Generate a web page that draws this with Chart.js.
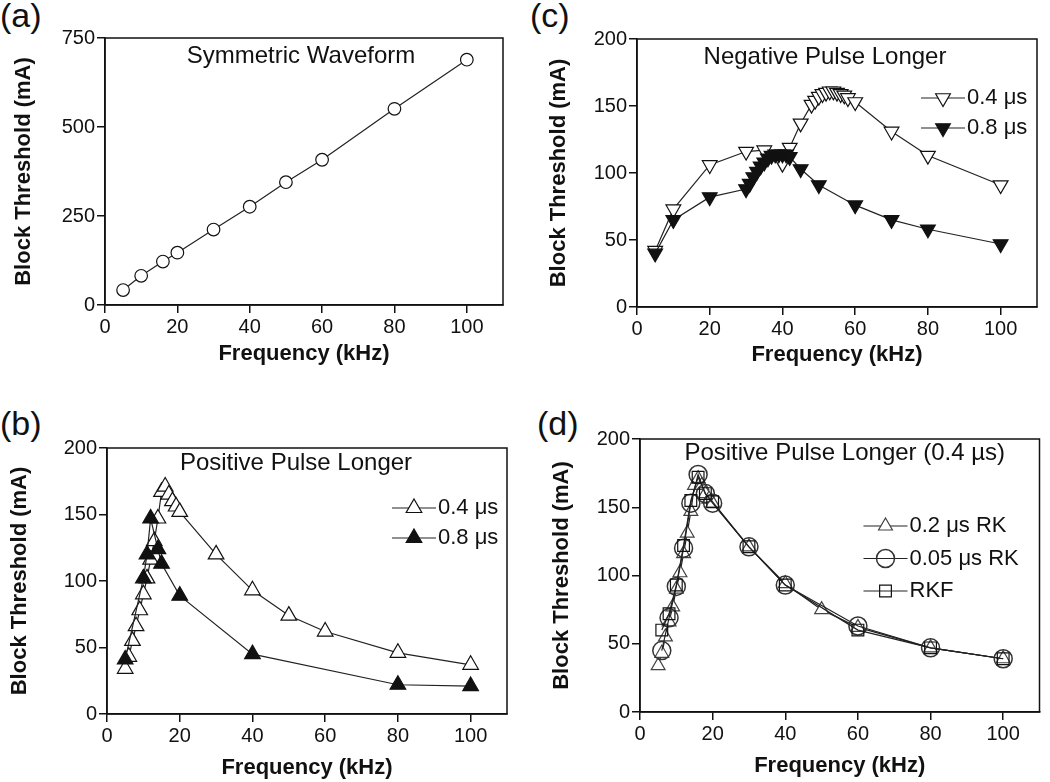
<!DOCTYPE html>
<html>
<head>
<meta charset="utf-8">
<script src="https://cdn.jsdelivr.net/npm/chart.js@4.4.1/dist/chart.umd.min.js"></script>
<style>
body{margin:0;background:#fff;width:1050px;height:782px;position:relative;overflow:hidden;font-family:"Liberation Sans",Arial,sans-serif}
canvas{position:absolute}
.lbl{position:absolute;font-size:34px;line-height:34px;color:#111}
</style>
</head>
<body>
<div class="lbl" style="left:0;top:-2px">(a)</div>
<div class="lbl" style="left:530px;top:-2px">(c)</div>
<div class="lbl" style="left:0;top:406px">(b)</div>
<div class="lbl" style="left:537px;top:406px">(d)</div>
<canvas id="chartA" width="525" height="391" style="left:0;top:0"></canvas>
<canvas id="chartC" width="525" height="391" style="left:525px;top:0"></canvas>
<canvas id="chartB" width="525" height="391" style="left:0;top:391px"></canvas>
<canvas id="chartD" width="525" height="391" style="left:525px;top:391px"></canvas>
<script>
// (a) symmetric waveform
const symFreq = [5, 10, 16, 20, 30, 40, 50, 60, 80, 100];
const symThr  = [42, 82, 122, 147, 212, 276, 345, 408, 551, 689];

// (c) negative pulse longer
const negFreq04 = [5, 10, 20, 30, 35, 40, 42, 45, 48, 49, 50, 51, 52, 53, 54, 55, 56, 57, 58, 60, 70, 80, 100];
const negThr04  = [42, 73, 106, 116, 117, 107, 119, 137, 151, 154, 157, 159, 160, 161, 161, 160, 159, 158, 156, 153, 131, 113, 91];
const negFreq08 = [5, 10, 20, 30, 31, 32, 33, 34, 35, 36, 37, 38, 39, 40, 41, 42, 45, 50, 60, 70, 80, 100];
const negThr08  = [40, 65, 82, 88, 92, 97, 101, 105, 108, 111, 113, 114, 114, 114, 114, 112, 103, 91, 76, 65, 58, 47];

// (b) positive pulse longer
const posFreq04 = [5, 6, 7, 8, 9, 10, 11, 12, 13, 14, 15, 16, 17, 18, 19, 20, 30, 40, 50, 60, 80, 100];
const posThr04  = [34, 43, 55, 66, 78, 90, 102, 116, 130, 147, 167, 171, 165, 160, 156, 152, 120, 93, 74, 62, 46, 37];
const posFreq08 = [5, 10, 11, 12, 14, 15, 20, 40, 80, 100];
const posThr08  = [41, 102, 120, 147, 124, 113, 89, 45, 22, 21];

// (d) solver comparison, positive pulse longer 0.4 us
const rk02Freq  = [5, 6, 7, 8, 9, 10, 11, 12, 13, 14, 15, 16, 17, 18, 19, 20, 30, 40, 50, 60, 80, 100];
const rk02Thr   = [34, 43, 55, 66, 77, 90, 102, 116, 131, 147, 166, 171, 166, 160, 156, 153, 121, 94, 75, 62, 47, 39];
const rk005Freq = [6, 8, 10, 12, 14, 16, 18, 20, 30, 40, 60, 80, 100];
const rk005Thr  = [45, 69, 92, 120, 153, 174, 160, 153, 121, 93, 63, 47, 39];
const rkfFreq   = [6, 8, 10, 12, 14, 16, 18, 20, 30, 40, 60, 80, 100];
const rkfThr    = [60, 72, 93, 122, 155, 172, 160, 154, 121, 93, 60, 47, 39];

const xTicks = [0, 20, 40, 60, 80, 100];
const FONT = '"Liberation Sans", Arial, sans-serif';

function pts(xs, ys){ return xs.map((x, i) => ({x, y: ys[i]})); }

// frame box, in-plot title and in-plot legend
const panelDecor = {
  id: 'panelDecor',
  afterDraw(chart, args, o){
    const {ctx, chartArea: a} = chart;
    ctx.save();
    ctx.strokeStyle = '#111';
    ctx.lineWidth = 1.5;
    ctx.strokeRect(a.left, a.top, a.right - a.left, a.bottom - a.top);
    ctx.fillStyle = '#111';
    ctx.textBaseline = 'middle';
    if(o.title){
      ctx.font = '24px ' + FONT;
      ctx.textAlign = 'center';
      ctx.fillText(o.title, (a.left + a.right) / 2 + o.titleDx, a.top + o.titleDy);
    }
    if(o.legend){
      chart.data.datasets.forEach((ds, i) => {
        const y = a.top + o.legendY + i * o.legendGap;
        const x0 = a.right + o.legendX, x1 = x0 + 44;
        ctx.strokeStyle = ds.borderColor;
        ctx.lineWidth = 1.2;
        ctx.beginPath(); ctx.moveTo(x0, y); ctx.lineTo(x1, y); ctx.stroke();
        ctx.fillStyle = ds.pointBackgroundColor;
        ctx.strokeStyle = ds.pointBorderColor;
        ctx.lineWidth = ds.pointBorderWidth;
        Chart.helpers.drawPoint(ctx, {pointStyle: ds.pointStyle, rotation: ds.pointRotation || 0,
          radius: ds.pointRadius, borderWidth: ds.pointBorderWidth}, (x0 + x1) / 2, y);
        ctx.fillStyle = '#111';
        ctx.font = '22px ' + FONT;
        ctx.textAlign = 'left';
        ctx.fillText(ds.label, x1 + 2, y);
      });
    }
    ctx.restore();
  }
};

function series(label, xs, ys, style, fill, r, extra){
  return Object.assign({
    label, data: pts(xs, ys), showLine: true,
    borderColor: '#222', borderWidth: 1.2,
    pointStyle: style, pointRadius: r, pointBackgroundColor: fill,
    pointBorderColor: '#111', pointBorderWidth: 1.2
  }, extra || {});
}

function makeChart(id, datasets, cfg){
  return new Chart(document.getElementById(id), {
    type: 'scatter',
    data: {datasets},
    plugins: [panelDecor],
    options: {
      responsive: false, animation: false, events: [],
      layout: {padding: cfg.pad},
      plugins: {legend: {display: false}, tooltip: {enabled: false}, panelDecor: cfg.decor},
      scales: {
        x: {
          type: 'linear', min: 0, max: 110,
          afterFit: s => { s.height = cfg.xH; },
          afterBuildTicks: s => { s.ticks = xTicks.map(v => ({value: v})); },
          ticks: {font: {size: 20, family: FONT}, color: '#111', padding: 2},
          grid: {drawOnChartArea: false, tickLength: 8, color: '#111', lineWidth: 1.5},
          border: {color: '#111', width: 1.5},
          title: {display: true, text: 'Frequency (kHz)', font: {size: 22, weight: 'bold', family: FONT}, color: '#111', padding: 0}
        },
        y: {
          min: 0, max: cfg.yMax,
          afterFit: s => { s.width = cfg.yW; },
          ticks: {stepSize: cfg.yStep, font: {size: 20, family: FONT}, color: '#111', padding: 2},
          grid: {drawOnChartArea: false, tickLength: 8, color: '#111', lineWidth: 1.5},
          border: {color: '#111', width: 1.5},
          title: {display: true, text: 'Block Threshold (mA)', font: {size: 22, weight: 'bold', family: FONT}, color: '#111', padding: 0}
        }
      }
    }
  });
}

makeChart('chartA', [
  series('Symmetric', symFreq, symThr, 'circle', '#fff', 6.3)
], {pad: {left: 11, top: 38, right: 22, bottom: 24}, yW: 94, xH: 62, yMax: 750, yStep: 250,
    decor: {title: 'Symmetric Waveform', titleDx: -3, titleDy: 18}});

makeChart('chartC', [
  series('0.4 \u03bcs', negFreq04, negThr04, 'triangle', '#fff', 8.5, {pointRotation: 180, order: 1}),
  series('0.8 \u03bcs', negFreq08, negThr08, 'triangle', '#111', 8.5, {pointRotation: 180, order: 0})
], {pad: {left: 21, top: 39, right: 13, bottom: 23}, yW: 91, xH: 61, yMax: 200, yStep: 50,
    decor: {title: 'Negative Pulse Longer', titleDx: -12, titleDy: 18,
            legend: true, legendX: -116, legendY: 59, legendGap: 30}});

makeChart('chartB', [
  series('0.4 \u03bcs', posFreq04, posThr04, 'triangle', '#fff', 9, {order: 1}),
  series('0.8 \u03bcs', posFreq08, posThr08, 'triangle', '#111', 9, {order: 0})
], {pad: {left: 7, top: 57, right: 18, bottom: 1}, yW: 100, xH: 67, yMax: 200, yStep: 50,
    decor: {title: 'Positive Pulse Longer', titleDx: -11, titleDy: 15,
            legend: true, legendX: -115, legendY: 60, legendGap: 30}});

makeChart('chartD', [
  series('0.2 \u03bcs RK', rk02Freq, rk02Thr, 'triangle', '#fff', 8, {pointBorderColor: '#444', order: 2}),
  series('0.05 \u03bcs RK', rk005Freq, rk005Thr, 'circle', 'rgba(255,255,255,0)', 9, {pointBorderColor: '#333', pointBorderWidth: 1.5, order: 1}),
  series('RKF', rkfFreq, rkfThr, 'rect', 'rgba(255,255,255,0)', 8.3, {order: 0})
], {pad: {left: 24, top: 48, right: 2, bottom: 3}, yW: 91, xH: 67, yMax: 200, yStep: 50,
    decor: {title: 'Positive Pulse Longer (0.4 \u00b5s)', titleDx: 5, titleDy: 14,
            legend: true, legendX: -176, legendY: 87, legendGap: 32.5}});
</script>
</body>
</html>
